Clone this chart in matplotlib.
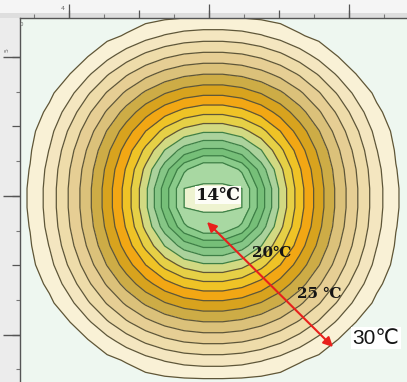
import numpy as np
import matplotlib
matplotlib.use("Agg")
import matplotlib.pyplot as plt
from matplotlib.patches import Rectangle

# ---------------- data ----------------
# isotherm boundaries, outer -> inner (degC)
boundary_temps = [30.5, 29.5, 28.5, 27.5, 26.5, 25.5, 24.5, 23.5, 22.5,
                  21.5, 20.5, 19.5, 18.5, 17.5, 16.5, 15.5, 14.5]
# half width / half height of each isotherm ring (pixels of the picture)
ring_half_width = [185, 169, 157, 145, 133, 122, 111, 101, 91, 82, 74, 66, 59, 52, 46, 41, 36]
ring_half_height = [180, 168, 157, 146, 135, 124, 113, 103, 93, 84, 75, 66, 58, 50, 43, 36, 29]
# band fill colours, inner (coldest) -> outer (warmest)
band_colors = ['#eef3d0', '#a8d8a2', '#8acb8a', '#76bf78', '#86c686', '#abd29c',
               '#d2d982', '#e6d046', '#efc326', '#f2a714', '#d8a31e', '#cdac46',
               '#dbc17a', '#e6ce94', '#eedcaa', '#f4e6c0', '#f9f1d6']
labels = ["14℃", "20℃", "25 ℃", "30℃"]
label_px = [(218, 195), (272, 253), (319, 294), (376, 338)]
arrow_px = [(207, 222), (333, 347)]

# ---------------- geometry ----------------
W, H = 407, 382
PX_U, PX_V = 35.0, 34.7     # pixels per ruler unit
U0, V0 = 69.0, 57.0         # pixel of ruler unit 0
def to_u(px): return (px - U0) / PX_U
def to_v(py): return (py - V0) / PX_V

fig = plt.figure(figsize=(W / 100, H / 100), dpi=100)
fig.patch.set_facecolor('white')
# ruler strips
fig.patches.append(Rectangle((0, 1 - 18 / H), 1, 18 / H, transform=fig.transFigure,
                             facecolor='#f5f5f5', edgecolor='none', zorder=-5))
fig.patches.append(Rectangle((0, 1 - 18 / H), 1, 5 / H, transform=fig.transFigure,
                             facecolor='#dedede', edgecolor='none', zorder=-5))
fig.patches.append(Rectangle((0, 0), 20 / W, 1 - 18 / H, transform=fig.transFigure,
                             facecolor='#ececec', edgecolor='none', zorder=-5))

ax = fig.add_axes([20 / W, 0, (W - 20) / W, (H - 18) / H])
ax.set_facecolor('#eef7f0')
xmin, xmax = to_u(20), to_u(W)
ymin, ymax = to_v(18), to_v(H)

# temperature field built from ring sizes
cx, cy = to_u(213), to_v(198)
a = np.array([2 * ring_half_width[0]] + ring_half_width + [0.3]) / PX_U
b = np.array([2 * ring_half_height[0]] + ring_half_height + [0.3]) / PX_V
T = np.array([34.0] + boundary_temps + [13.0])
p = 2.2
step = 0.55
gu = cx + step / 2 + step * np.arange(-14, 14)
gv = cy + step / 2 + step * np.arange(-14, 14)
U, V = np.meshgrid(gu, gv)
Z = np.empty_like(U)
for i in range(U.shape[0]):
    for j in range(U.shape[1]):
        dx, dy = abs(U[i, j] - cx), abs(V[i, j] - cy)
        d = ((dx / a) ** p + (dy / b) ** p) ** (1 / p)
        Z[i, j] = np.interp(1.0, d, T)

fill_levels = [12.0] + boundary_temps[::-1]
ax.contourf(U, V, Z, levels=fill_levels, colors=band_colors)
line_levels = boundary_temps[::-1]
line_colors = ['#3e7f46' if t < 20 else '#5e5638' for t in line_levels]
ax.contour(U, V, Z, levels=line_levels, colors=line_colors, linewidths=0.9)

ax.set_xlim(xmin, xmax)
ax.set_ylim(ymax, ymin)

# labels
fams_serif = ['DejaVu Serif', 'Noto Sans CJK SC']
for (txt, (px, py)) in zip(labels, label_px):
    u, v = to_u(px), to_v(py)
    if txt.startswith("14"):
        ax.text(u, v, txt, fontsize=12.5, fontweight='bold', family=fams_serif,
                ha='center', va='center', color='#151515',
                bbox=dict(facecolor='#fdfdf6', edgecolor='none', pad=0.3))
    elif txt.startswith("30"):
        ax.text(u, v, txt, fontsize=15, family=['Liberation Sans', 'DejaVu Sans'],
                ha='center', va='center', color='#151515',
                bbox=dict(facecolor='white', edgecolor='none', pad=1.0))
    else:
        ax.text(u, v, txt, fontsize=11, family=fams_serif, fontweight='semibold',
                ha='center', va='center', color='#151515')

(x0, y0), (x1, y1) = arrow_px
ax.annotate('', xy=(to_u(x1), to_v(y1)), xytext=(to_u(x0), to_v(y0)),
            arrowprops=dict(arrowstyle='<|-|>', color='#e8201c', lw=1.5,
                            mutation_scale=14, shrinkA=0, shrinkB=0))

# ruler-like axes
for s in ['bottom', 'right']:
    ax.spines[s].set_visible(False)
for s in ['top', 'left']:
    ax.spines[s].set_color('#555555')
    ax.spines[s].set_linewidth(1.0)
ax.xaxis.tick_top()
ax.set_xticks([0, 2, 4, 6, 8])
ax.set_xticks([-1, 1, 3, 5, 7, 9], minor=True)
ax.set_yticks([0, 2, 4, 6, 8])
ax.set_yticks([1, 3, 5, 7, 9], minor=True)
ax.tick_params(which='major', length=6, width=0.9, color='#555555', direction='out',
               labeltop=False, labelleft=False, labelbottom=False)
ax.tick_params(which='minor', length=3, width=0.8, color='#777777', direction='out')
sx = ax.secondary_xaxis('top')
sx.set_xticks([0, 4, 8])
sx.tick_params(length=10, width=0.9, color='#555555', labeltop=False)
sx.spines['top'].set_visible(False)
sy = ax.secondary_yaxis('left')
sy.set_yticks([0, 4, 8])
sy.tick_params(length=12, width=1.0, color='#555555', labelleft=False)
sy.spines['left'].set_visible(False)

fig.text(63 / W, 1 - 8 / H, "4", fontsize=4.5, color='#666666', ha='center', va='center')
fig.text(21 / W, 1 - 24 / H, "0", fontsize=4, color='#666666', ha='center', va='center')
fig.text(7 / W, 1 - 50 / H, "5", fontsize=4.5, color='#666666', ha='center', va='center', rotation=90)

fig.savefig('out.png', dpi=100, facecolor=fig.get_facecolor())
